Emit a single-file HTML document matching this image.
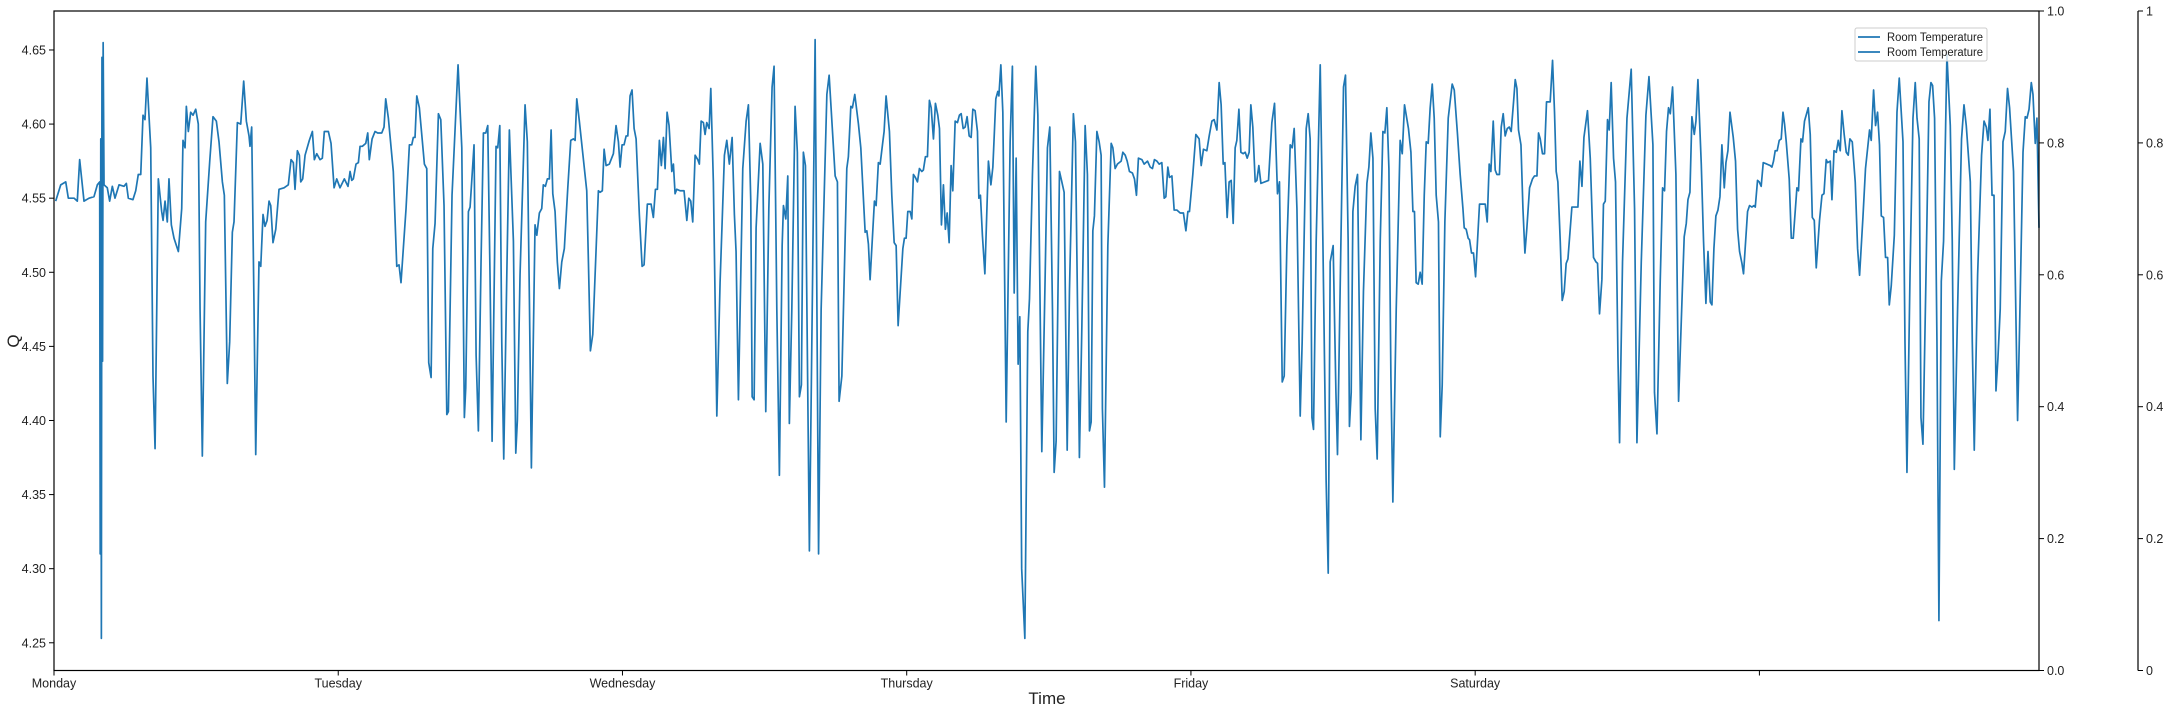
<!DOCTYPE html>
<html><head><meta charset="utf-8"><style>
html,body{margin:0;padding:0;background:#fff;}
svg{display:block;font-family:"Liberation Sans","DejaVu Sans",sans-serif;}
</style></head><body>
<svg id="chart" width="2168" height="712" viewBox="0 0 2168 712" xmlns="http://www.w3.org/2000/svg">
<rect x="0" y="0" width="2168" height="712" fill="#fff"/>
<g id="marks"></g>
<g id="axes"></g>
<g id="legend">
<rect x="1855" y="28" width="132" height="33" fill="#fff" fill-opacity="0.8" stroke="#ccc" stroke-width="1" rx="2"/>
<line x1="1858" y1="37" x2="1880" y2="37" stroke="#1f77b4" stroke-width="1.7"/>
<text x="1887" y="41" font-size="11.5" fill="#222" textLength="96" lengthAdjust="spacingAndGlyphs">Room Temperature</text>
<line x1="1858" y1="52" x2="1880" y2="52" stroke="#1f77b4" stroke-width="1.7"/>
<text x="1887" y="56" font-size="11.5" fill="#222" textLength="96" lengthAdjust="spacingAndGlyphs">Room Temperature</text>
</g>
</svg>
<script>
// time in 5-minute samples since Monday 00:00 (288 per day)
const times=[1.7,6.8,11.9,14.5,20.3,23.6,26.0,30.4,35.5,40.5,43.9,46.3,46.8,47.4,48.0,48.6,49.2,49.8,50.7,54.0,56.4,59.1,61.8,65.9,70.9,73.3,75.3,80.0,82.8,85.4,87.9,90.2,92.2,94.2,98.0,100.3,102.4,105.7,109.1,110.5,112.5,114.8,116.5,118.9,121.6,126.0,129.4,130.7,132.8,134.1,136.1,138.5,140.9,143.6,146.2,148.0,150.3,153.7,157.8,161.1,164.5,167.2,170.6,172.6,175.6,178.0,180.7,182.4,185.8,189.2,192.2,194.9,197.6,198.6,200.3,202.7,204.4,207.7,209.5,211.8,213.8,215.9,217.9,219.6,221.9,224.7,228.0,233.1,
237.4,240.2,242.5,244.2,246.6,248.6,250.0,252.0,254.4,258.7,261.8,263.8,266.2,269.6,271.9,273.9,278.0,280.7,283.8,286.5,289.8,294.2,297.9,300.0,301.7,303.3,306.0,308.4,310.1,312.4,315.9,317.9,319.5,322.3,325.3,328.0,332.1,334.4,336.1,338.8,343.8,347.3,349.6,351.6,356.7,360.1,362.5,364.1,365.8,367.6,370.2,375.3,377.7,379.7,382.1,383.8,386.1,389.5,391.9,395.2,398.0,399.6,403.3,409.4,413.2,415.8,417.2,419.9,421.6,425.6,427.7,430.0,432.7,435.1,437.5,439.5,441.8,443.9,447.9,449.6,451.7,453.7,455.7,458.8,461.4,465.5,467.9,469.5,472.2,477.3,
479.6,481.7,483.7,487.4,489.2,491.8,494.2,495.8,497.9,499.9,501.9,503.7,505.4,507.7,510.0,512.1,514.5,517.1,520.6,523.6,526.3,528.0,529.7,532.3,539.8,541.5,543.5,545.9,551.6,553.3,555.6,557.4,559.4,562.7,566.8,569.5,571.9,573.6,575.6,577.6,579.7,581.4,583.7,585.7,587.8,589.8,593.1,595.9,597.9,601.2,605.0,607.3,609.4,611.4,613.4,615.4,617.5,619.2,621.2,623.2,626.0,627.6,629.3,631.0,634.4,638.4,641.2,643.2,645.2,647.2,649.6,652.3,653.9,655.7,658.0,659.7,661.4,663.8,665.5,668.1,671.6,674.9,679.3,681.7,684.3,687.1,689.4,691.1,693.5,697.9,701.3,703.6,706.0,707.4,709.4,711.4,715.5,718.2,721.2,
724.3,727.6,729.6,732.4,735.0,737.8,739.1,741.5,743.5,745.1,747.6,750.9,753.2,755.3,757.3,759.3,761.4,765.4,768.7,771.2,774.7,777.3,783.1,785.4,791.5,793.8,795.5,798.3,803.3,804.9,807.4,809.0,811.4,815.1,817.5,821.9,823.6,825.2,826.9,831.3,833.0,835.3,837.1,839.8,841.1,843.1,846.5,848.9,851.3,853.3,855.3,860.1,861.7,863.4,865.1,867.5,869.2,870.8,872.8,874.9,876.9,879.3,880.9,883.0,885.0,887.0,888.8,891.1,893.1,895.5,897.2,899.2,901.2,903.2,905.0,907.0,909.0,910.7,913.1,915.4,917.4,919.2,921.2,923.2,925.2,927.3,929.3,931.0,933.3,935.7,937.1,938.7,940.7,943.2,946.8,949.3,951.3,954.3,956.3,957.4,959.4,961.4,964.8,968.8,971.1,972.9,974.9,
976.9,978.6,980.5,983.7,986.7,988.4,991.4,994.8,996.9,1000.9,1004.3,1006.6,1009.0,1011.7,1013.4,1015.4,1018.8,1021.2,1023.5,1026.6,1028.9,1032.9,1035.0,1039.0,1041.5,1044.8,1047.1,1049.2,1050.9,1052.6,1054.2,1056.7,1059.0,1061.0,1062.3,1064.4,1067.8,1071.2,1072.9,1075.2,1077.5,1081.3,1083.0,1085.4,1087.4,1089.7,1092.7,1094.8,1096.8,1098.8,1102.3,1104.6,1108.0,1110.7,1113.0,1115.0,1117.5,1119.8,1122.5,1124.9,1126.6,1128.6,1130.2,1132.7,1135.0,1137.7,1141.1,1144.4,1146.9,1148.9,1150.5,1153.9,1157.0,1160.3,1162.4,1164.7,1168.1,1170.5,1173.2,1175.5,1178.3,1180.6,1182.6,1184.7,1186.4,1188.7,1190.7,1192.8,1194.8,1196.8,1198.5,1200.6,1202.6,1204.9,1207.0,1209.0,1211.0,1212.7,1214.7,1217.1,1218.8,1220.8,1222.9,1230.6,1234.0,1236.7,
1239.7,1241.7,1244.5,1246.5,1249.2,1252.6,1254.6,1256.6,1259.4,1262.7,1264.7,1268.8,1270.8,1272.8,1274.6,1276.2,1278.9,1283.0,1285.7,1289.0,1291.1,1293.1,1296.1,1298.9,1300.5,1303.9,1306.6,1308.6,1311.3,1312.6,1314.4,1316.1,1318.4,1320.8,1324.2,1326.8,1330.3,1332.3,1334.3,1336.4,1338.7,1340.7,1343.8,1346.5,1348.5,1350.5,1352.6,1354.6,1356.6,1360.0,1364.0,1366.1,1368.4,1372.4,1374.9,1376.9,1378.5,1380.2,1382.3,1384.3,1386.3,1388.4,1390.4,1392.4,1394.4,1396.5,1398.5,1400.5,1402.8,1404.6,1406.6,1409.3,1412.7,1416.7,1418.8,1422.1,1424.8,1427.6,1428.9,1430.9,1432.9,1434.3,1436.3,1438.3,1440.4,1444.4,1450.2,1452.2,1454.2,1455.9,1458.3,1460.3,1462.0,1464.6,1466.4,1468.4,1470.4,1472.5,1474.5,1476.5,1478.9,1480.6,1482.3,1483.9,1486.4,1488.4,1490.4,1492.4,1495.1,
1498.1,1500.1,1502.6,1504.2,1505.9,1508.2,1510.3,1512.3,1516.0,1518.4,1520.4,1522.1,1523.8,1526.2,1528.2,1530.2,1532.2,1534.0,1538.0,1541.4,1544.1,1546.1,1548.2,1550.2,1553.8,1556.6,1559.9,1562.4,1564.0,1566.0,1568.4,1570.0,1571.8,1574.1,1575.8,1577.8,1580.2,1582.2,1584.7,1586.3,1589.3,1593.8,1598.1,1601.5,1603.9,1608.3,1613.0,1616.1,1620.1,1621.7,1624.2,1627.5,1629.9,1631.9,1633.9,1635.9,1637.7,1640.0,1643.4,1646.1,1649.5,1651.8,1653.9,1655.6,1657.6,1659.6,1662.0,1663.7,1665.7,1669.1,1671.4,1673.8,1675.9,1678.2,1679.9,1681.9,1683.9,1686.0,1688.0,1690.0,1692.4,1694.1,1696.1,1698.2,1701.5,1703.8,1705.9,1707.9,1710.3,1711.9,1716.0,1718.0,1720.4,1722.5,1723.8,1726.1,1727.8,1729.8,1731.9,1735.6,1739.0,1740.7,1742.3,1744.0,1746.0,1748.1,1750.1,1751.9,1753.5,
1755.2,1758.2,1760.3,1762.3,1766.0,1767.6,1770.1,1771.7,1773.7,1777.5,1779.5,1781.6,1783.6,1785.6,1788.9,1791.4,1793.4,1795.7,1797.1,1799.8,1801.5,1803.6,1805.9,1807.9,1809.9,1811.6,1813.9,1816.0,1818.0,1819.7,1822.1,1825.1,1827.5,1829.5,1832.9,1835.5,1839.6,1841.3,1843.7,1845.7,1847.7,1849.7,1851.5,1853.8,1855.8,1857.9,1859.6,1861.6,1864.7,1867.4,1869.7,1873.5,1875.5,1877.5,1880.6,1883.6,1885.9,1887.7,1889.9,1891.7,1893.7,1896.8,1899.8,1901.8,1903.5,1905.5,1907.9,1909.9,1912.3,1914.6,1918.0,1921.4,1923.4,1925.5,1928.8,1932.8,1935.3,1937.6,1941.7,1943.7,1945.7,1949.1,1953.1,1955.6,1957.9,1959.6,1961.6,1963.7,1965.7,1967.7,1969.7,1972.0,1974.8,1977.1,1979.4,1981.5,1985.5,1987.6,1989.6,1991.6,1995.1,1997.4,1999.1,2001.2,2003.5,2005.2,2007.5,2009.2,2011.3];
const values=[4.548,4.559,4.561,4.550,4.550,4.548,4.576,4.548,4.550,4.551,4.559,4.561,4.310,4.590,4.253,4.645,4.440,4.655,4.559,4.557,4.548,4.558,4.550,4.559,4.558,4.560,4.550,4.549,4.555,4.566,4.566,4.606,4.603,4.631,4.584,4.430,4.381,4.563,4.541,4.535,4.548,4.534,4.563,4.532,4.523,4.514,4.543,4.589,4.584,4.612,4.595,4.608,4.606,4.610,4.600,4.475,4.376,4.534,4.575,4.605,4.602,4.588,4.561,4.552,4.425,4.453,4.527,4.534,4.601,4.600,4.629,4.602,4.592,4.585,4.598,4.475,4.377,4.507,4.504,4.539,4.531,4.535,4.548,4.545,4.520,4.529,4.556,4.557,
4.559,4.576,4.574,4.556,4.582,4.579,4.561,4.563,4.579,4.589,4.595,4.576,4.580,4.576,4.577,4.595,4.595,4.587,4.557,4.563,4.557,4.563,4.558,4.568,4.562,4.563,4.573,4.574,4.585,4.585,4.587,4.594,4.576,4.590,4.595,4.594,4.594,4.598,4.617,4.604,4.568,4.504,4.505,4.493,4.543,4.586,4.586,4.591,4.591,4.619,4.611,4.573,4.570,4.439,4.429,4.516,4.533,4.607,4.603,4.545,4.404,4.406,4.552,4.640,4.584,4.402,4.422,4.541,4.544,4.586,4.444,4.393,4.507,4.594,4.594,4.599,4.498,4.386,4.585,4.584,4.599,4.453,4.374,4.498,4.596,4.521,4.378,4.400,4.498,4.613,
4.588,4.482,4.368,4.532,4.525,4.540,4.543,4.559,4.558,4.563,4.563,4.596,4.553,4.541,4.507,4.489,4.507,4.516,4.557,4.589,4.590,4.589,4.617,4.602,4.555,4.507,4.447,4.458,4.555,4.554,4.555,4.583,4.572,4.573,4.580,4.599,4.588,4.571,4.586,4.586,4.592,4.592,4.619,4.623,4.597,4.590,4.539,4.504,4.505,4.546,4.546,4.537,4.556,4.556,4.589,4.572,4.591,4.570,4.608,4.599,4.568,4.573,4.553,4.556,4.555,4.555,4.535,4.550,4.548,4.534,4.579,4.576,4.573,4.602,4.601,4.593,4.601,4.597,4.624,4.561,4.403,4.493,4.579,4.589,4.573,4.591,4.539,4.514,4.414,4.570,4.602,4.613,4.548,4.416,4.414,4.530,4.587,4.573,4.406,
4.543,4.625,4.639,4.475,4.363,4.518,4.545,4.536,4.565,4.398,4.475,4.612,4.581,4.416,4.424,4.581,4.572,4.312,4.500,4.657,4.310,4.475,4.620,4.633,4.565,4.561,4.413,4.430,4.570,4.578,4.612,4.611,4.620,4.600,4.584,4.527,4.528,4.519,4.495,4.548,4.545,4.574,4.573,4.588,4.595,4.619,4.595,4.552,4.520,4.518,4.464,4.516,4.523,4.523,4.541,4.541,4.536,4.566,4.564,4.561,4.570,4.568,4.569,4.578,4.578,4.616,4.611,4.590,4.614,4.606,4.597,4.532,4.559,4.529,4.540,4.520,4.572,4.555,4.602,4.601,4.606,4.607,4.597,4.598,4.605,4.592,4.591,4.610,4.609,4.595,4.550,4.552,4.525,4.499,4.575,4.559,4.571,4.617,4.622,4.619,4.640,4.608,4.399,4.588,4.639,4.486,4.577,
4.438,4.470,4.300,4.253,4.460,4.482,4.566,4.639,4.606,4.379,4.498,4.584,4.598,4.475,4.365,4.386,4.568,4.561,4.554,4.380,4.487,4.607,4.588,4.375,4.464,4.599,4.566,4.393,4.399,4.528,4.538,4.595,4.588,4.579,4.408,4.355,4.518,4.587,4.584,4.570,4.573,4.575,4.581,4.579,4.575,4.568,4.567,4.563,4.552,4.577,4.576,4.573,4.575,4.571,4.570,4.576,4.575,4.573,4.574,4.550,4.551,4.571,4.564,4.565,4.542,4.542,4.540,4.540,4.528,4.541,4.541,4.566,4.593,4.590,4.572,4.583,4.582,4.592,4.602,4.603,4.596,4.628,4.613,4.573,4.574,4.537,4.561,4.562,4.533,4.584,4.589,4.610,4.581,4.580,4.581,4.577,4.581,4.613,4.598,4.561,4.562,4.572,4.560,4.562,4.601,4.614,
4.553,4.561,4.426,4.430,4.518,4.586,4.584,4.597,4.543,4.403,4.453,4.597,4.607,4.590,4.402,4.394,4.521,4.640,4.521,4.359,4.297,4.507,4.518,4.419,4.377,4.518,4.625,4.633,4.521,4.396,4.419,4.541,4.558,4.566,4.387,4.487,4.560,4.571,4.594,4.577,4.408,4.374,4.521,4.595,4.594,4.611,4.570,4.430,4.345,4.475,4.589,4.580,4.613,4.597,4.581,4.541,4.541,4.493,4.492,4.500,4.492,4.552,4.588,4.587,4.611,4.627,4.604,4.552,4.534,4.389,4.424,4.534,4.604,4.627,4.623,4.593,4.566,4.543,4.530,4.529,4.523,4.522,4.513,4.513,4.497,4.546,4.546,4.534,4.573,4.568,4.602,4.569,4.566,4.566,4.598,4.607,4.592,4.597,4.598,4.595,4.615,4.630,4.624,4.596,4.586,4.543,4.513,4.530,4.557,
4.563,4.565,4.565,4.594,4.590,4.580,4.580,4.615,4.615,4.643,4.608,4.568,4.561,4.521,4.481,4.487,4.506,4.509,4.544,4.544,4.544,4.575,4.558,4.591,4.609,4.577,4.510,4.507,4.506,4.472,4.495,4.546,4.548,4.603,4.596,4.628,4.577,4.561,4.442,4.385,4.507,4.604,4.637,4.543,4.385,4.507,4.606,4.632,4.586,4.419,4.391,4.494,4.557,4.555,4.595,4.611,4.607,4.625,4.566,4.413,4.480,4.524,4.533,4.549,4.554,4.605,4.593,4.602,4.630,4.573,4.521,4.479,4.514,4.480,4.478,4.516,4.538,4.542,4.551,4.586,4.557,4.574,4.582,4.608,4.591,4.575,4.529,4.514,4.506,4.499,4.541,4.545,4.544,4.545,4.544,4.562,4.561,4.558,4.574,4.573,4.572,4.571,4.575,4.582,4.582,4.589,4.590,4.608,4.600,
4.588,4.563,4.523,4.523,4.557,4.555,4.590,4.588,4.602,4.611,4.593,4.537,4.535,4.503,4.535,4.552,4.553,4.576,4.574,4.575,4.549,4.582,4.581,4.589,4.582,4.609,4.593,4.581,4.579,4.590,4.588,4.561,4.516,4.498,4.537,4.570,4.596,4.589,4.623,4.599,4.608,4.586,4.538,4.537,4.510,4.510,4.478,4.491,4.525,4.608,4.631,4.588,4.453,4.365,4.498,4.604,4.628,4.604,4.590,4.402,4.384,4.498,4.615,4.628,4.626,4.604,4.453,4.265,4.494,4.521,4.647,4.599,4.521,4.367,4.475,4.590,4.613,4.599,4.561,4.453,4.380,4.498,4.579,4.602,4.598,4.589,4.610,4.552,4.552,4.420,4.442,4.475,4.588,4.595,4.624,4.611,4.568,4.483,4.400,4.462,4.581,4.605,4.604,4.610,4.628,4.620,4.587,4.604,4.530];
const dayLabels=["Monday","Tuesday","Wednesday","Thursday","Friday","Saturday",""];
const yTicks=[4.25,4.30,4.35,4.40,4.45,4.50,4.55,4.60,4.65];
const rightTicks=[0.0,0.2,0.4,0.6,0.8,1.0];
const farTicks=["0","0.2","0.4","0.6","0.8","1"];

const L=54,R=2039,T=11,B=670.5;
const SAMPLES_PER_DAY=288, X_MAX=2011.3;
const Y_MIN=4.2313, Y_MAX=4.6763;
function xs(t){return L+(t/X_MAX)*(R-L);}
function ys(v){return B-(v-Y_MIN)/(Y_MAX-Y_MIN)*(B-T);}
function yr(v){return B-v*(B-T);}
const NS="http://www.w3.org/2000/svg";
function mk(tag,attrs,parent){const e=document.createElementNS(NS,tag);for(const k in attrs)e.setAttribute(k,attrs[k]);parent.appendChild(e);return e;}

const marks=document.getElementById('marks');
const axes=document.getElementById('axes');
let d="";
for(let i=0;i<times.length;i++){d+=(i?"L":"M")+xs(times[i]).toFixed(2)+","+ys(values[i]).toFixed(2);}
const line=mk('path',{d:d,fill:'none',stroke:'#1f77b4','stroke-width':'1.7','stroke-linejoin':'round'},marks);



const frame=mk('rect',{x:L,y:T,width:R-L,height:B-T,fill:'none',stroke:'#000','stroke-width':'1.2'},axes);


const far=mk('line',{x1:2138,y1:T,x2:2138,y2:B,stroke:'#000','stroke-width':'1.2'},axes);



dayLabels.forEach((lab,i)=>{
  const x=xs(i*SAMPLES_PER_DAY);
  const tk=mk('line',{x1:x,y1:B,x2:x,y2:B+5,stroke:'#000','stroke-width':'1'},axes);
  
  
  if(lab){
    const tx=mk('text',{x:x,y:B+17,'font-size':'12.5','text-anchor':'middle',fill:'#222'},axes);
    tx.textContent=lab;
    
    
  }
});
yTicks.forEach(v=>{
  const y=ys(v);
  const tk=mk('line',{x1:L-5,y1:y,x2:L,y2:y,stroke:'#000','stroke-width':'1'},axes);
  
  
  const tx=mk('text',{x:L-8,y:y+4.5,'font-size':'12.5','text-anchor':'end',fill:'#222'},axes);
  tx.textContent=v.toFixed(2);
  
  
});
rightTicks.forEach(v=>{
  const y=yr(v);
  const tk=mk('line',{x1:R,y1:y,x2:R+5,y2:y,stroke:'#000','stroke-width':'1'},axes);
  
  
  const tx=mk('text',{x:R+8,y:y+4.5,'font-size':'12.5',fill:'#222'},axes);
  tx.textContent=v.toFixed(1);
  
  
});
farTicks.forEach((lab,i)=>{
  const y=yr(rightTicks[i]);
  const tk=mk('line',{x1:2138,y1:y,x2:2143,y2:y,stroke:'#000','stroke-width':'1'},axes);
  
  
  const tx=mk('text',{x:2146,y:y+4.5,'font-size':'12.5',fill:'#222'},axes);
  tx.textContent=lab;
  
  
});
const xt=mk('text',{x:1047,y:704,'font-size':'17','text-anchor':'middle',fill:'#222'},axes);
xt.textContent='Time';


const yt=mk('text',{x:19,y:341,'font-size':'17','text-anchor':'middle',fill:'#222',transform:'rotate(-90 19 341)'},axes);
yt.textContent='Q';


</script>
</body></html>
